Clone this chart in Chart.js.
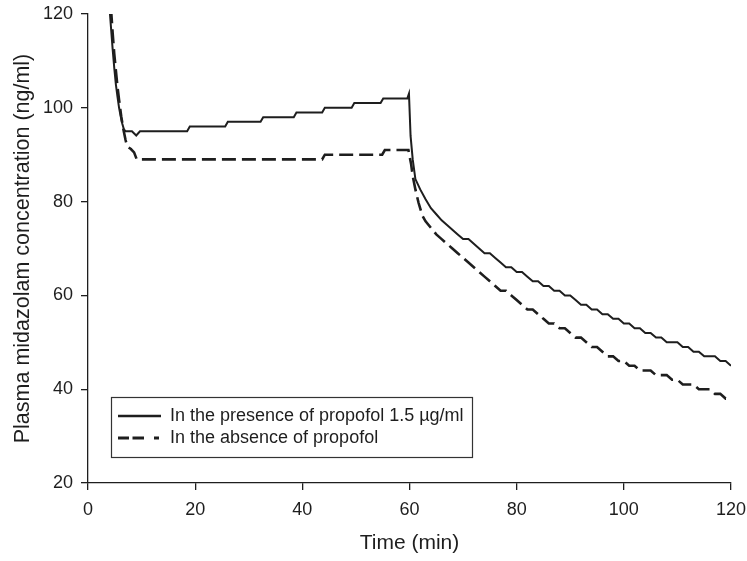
<!DOCTYPE html>
<html>
<head>
<meta charset="utf-8">
<script src="https://cdn.jsdelivr.net/npm/chart.js@4.4.1/dist/chart.umd.min.js"></script>
<style>
  html, body { margin: 0; padding: 0; background: #fff; }
  #wrap { width: 747px; height: 561px; position: relative; }
</style>
</head>
<body>
<div id="wrap"><canvas id="midaChart"></canvas></div>
<script>
// time (min) and concentration (ng/ml)
const presenceTime = [4.0, 4.3, 4.6, 4.9, 5.2, 5.5, 5.8, 6.1, 6.4, 6.7, 7.0, 8.2, 9.0, 9.7, 18.5, 19.0, 25.6, 26.1, 32.2, 32.7,
  38.4, 38.9, 43.7, 44.2, 49.2, 49.7, 54.6, 55.1, 59.6, 59.9, 60.2, 60.6, 61.1, 62.0, 63.0,
  64, 65, 66, 67, 68, 69, 70, 71, 72, 73, 74, 75, 76, 77, 78, 79, 80, 81, 82, 83, 84, 85, 86, 87, 88, 89, 90,
  91, 92, 93, 94, 95, 96, 97, 98, 99, 100, 101, 102, 103, 104, 105, 106, 107, 108, 109, 110,
  111, 112, 113, 114, 115, 116, 117, 118, 119, 120];
const presenceConc = [121.5, 117, 112.5, 108.5, 105, 102.4, 100, 98.2, 96.6, 95.4, 95, 95, 94.1, 95, 95, 96, 96, 97, 97, 98,
  98, 99, 99, 100, 100, 101, 101, 102, 102, 103, 94, 89, 84.8, 82.6, 80.5,
  78.6, 77.3, 76, 75, 74, 73, 72, 72, 71, 70, 69, 69, 68, 67, 66, 66, 65, 65, 64, 63, 63, 62, 62, 61, 61, 60, 60,
  59, 58, 58, 57, 57, 56, 56, 55, 55, 54, 54, 53, 53, 52, 52, 51, 51, 50, 50, 50,
  49, 49, 48, 48, 47, 47, 47, 46, 46, 45];

const absenceTime = [4.3, 4.6, 4.9, 5.2, 5.5, 5.8, 6.2, 6.6, 7.0, 7.3, 8.0, 8.6, 9.1, 43.7, 44.2, 54.9, 55.4, 59.8,
  60.3, 60.6, 61.1, 61.7, 62.4, 63.0,
  64, 65, 66, 67, 68, 69, 70, 71, 72, 73, 74, 75, 76, 77, 78, 79, 80, 81, 82, 83, 84, 85, 86, 87, 88, 89, 90,
  91, 92, 93, 94, 95, 96, 97, 98, 99, 100, 101, 102, 103, 104, 105, 106, 107, 108, 109, 110,
  111, 112, 113, 114, 115, 116, 117, 118, 119, 120];
const absenceConc = [121, 116, 111.5, 108, 104.5, 101.7, 98.2, 95.4, 93.2, 91.8, 91.2, 90.5, 89, 89, 90, 90, 91, 91,
  88, 85.5, 82.6, 79.7, 77, 75.8,
  74.4, 73, 72, 71, 70, 69, 68, 67, 66, 65, 64, 63, 62, 61, 61, 60, 59, 58, 57, 57, 56, 55, 54, 54, 53, 53, 52,
  51, 51, 50, 49, 49, 48, 47, 47, 46, 46, 45, 45, 44, 44, 44, 43, 43, 43, 42, 42,
  41, 41, 41, 40, 40, 40, 39, 39, 38, 38];

const seriesLabels = ['In the presence of propofol 1.5 \u00b5g/ml', 'In the absence of propofol'];
const xTicks = [0, 20, 40, 60, 80, 100, 120];
const yTicks = [20, 40, 60, 80, 100, 120];

const ink = '#1e1e1e';
const fontFam = "'Liberation Sans', Arial, Helvetica, sans-serif";

function toPoints(xs, ys) {
  return xs.map((x, i) => ({ x: x, y: ys[i] }));
}

// legend box drawn inside the plot, lower left
const boxLegend = {
  id: 'boxLegend',
  afterDraw(chart) {
    const ctx = chart.ctx;
    const a = chart.chartArea;
    const bx = a.left + 23, by = a.bottom - 86, bw = 361, bh = 60;
    ctx.save();
    ctx.strokeStyle = '#333';
    ctx.lineWidth = 1.2;
    ctx.strokeRect(bx + 0.5, by + 0.5, bw, bh);

    const rows = [by + 19, by + 41];
    ctx.strokeStyle = ink;
    // solid sample
    ctx.lineWidth = 2.5;
    ctx.setLineDash([]);
    ctx.beginPath();
    ctx.moveTo(bx + 7, rows[0]);
    ctx.lineTo(bx + 50, rows[0]);
    ctx.stroke();
    // dashed sample
    ctx.lineWidth = 3;
    ctx.setLineDash([11, 3.5, 11.5, 10, 5, 60]);
    ctx.beginPath();
    ctx.moveTo(bx + 7, rows[1]);
    ctx.lineTo(bx + 50, rows[1]);
    ctx.stroke();
    ctx.setLineDash([]);

    ctx.fillStyle = ink;
    ctx.font = '18px ' + fontFam;
    ctx.textBaseline = 'middle';
    ctx.textAlign = 'left';
    ctx.fillText(seriesLabels[0], bx + 59, rows[0]);
    ctx.fillText(seriesLabels[1], bx + 59, rows[1]);
    ctx.restore();
  }
};

new Chart('midaChart', {
  type: 'line',
  data: {
    datasets: [{
      label: seriesLabels[0],
      data: toPoints(presenceTime, presenceConc),
      borderColor: ink,
      borderWidth: 2,
      pointRadius: 0,
      tension: 0,
      fill: false,
      clip: 0
    }, {
      label: seriesLabels[1],
      data: toPoints(absenceTime, absenceConc),
      borderColor: ink,
      borderWidth: 2.6,
      borderDash: [14, 6],
      pointRadius: 0,
      tension: 0,
      fill: false,
      clip: 0
    }]
  },
  options: {
    responsive: true,
    maintainAspectRatio: false,
    animation: false,
    layout: { padding: { top: 14, right: 16, left: 0, bottom: 0 } },
    plugins: {
      legend: { display: false },
      tooltip: { enabled: false },
      title: { display: false }
    },
    scales: {
      x: {
        type: 'linear',
        min: 0,
        max: 120,
        afterBuildTicks: (s) => { s.ticks = xTicks.map(v => ({ value: v })); },
        afterFit: (s) => { s.height = 78; s.paddingRight = 0; s.paddingLeft = 0; },
        border: { display: true, color: ink, width: 1.3 },
        grid: { display: true, drawOnChartArea: false, drawTicks: true, tickLength: 7, color: ink, lineWidth: 1.3 },
        ticks: { color: ink, font: { size: 18, family: fontFam }, padding: 9, maxRotation: 0 },
        title: { display: true, text: 'Time (min)', color: ink, font: { size: 21, family: fontFam }, padding: { top: 0, bottom: 5 } }
      },
      y: {
        type: 'linear',
        min: 20,
        max: 120,
        afterBuildTicks: (s) => { s.ticks = yTicks.map(v => ({ value: v })); },
        afterFit: (s) => { s.width = 88; s.paddingTop = 0; s.paddingBottom = 0; },
        border: { display: true, color: ink, width: 1.3 },
        grid: { display: true, drawOnChartArea: false, drawTicks: true, tickLength: 7, color: ink, lineWidth: 1.3 },
        ticks: { color: ink, font: { size: 18, family: fontFam }, padding: 8 },
        title: { display: true, text: 'Plasma midazolam concentration (ng/ml)', color: ink, font: { size: 21.5, family: fontFam }, padding: { top: 10, bottom: 0 } }
      }
    }
  },
  plugins: [boxLegend]
});
</script>
</body>
</html>
